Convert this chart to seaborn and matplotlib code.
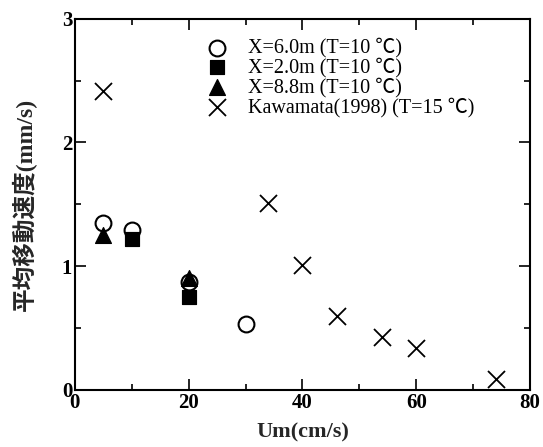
import matplotlib
matplotlib.use("Agg")
import matplotlib.pyplot as plt
import seaborn as sns
import pandas as pd
from matplotlib.ticker import MultipleLocator

# Data
x6_um = [5, 10, 20, 30]
x6_v = [1.35, 1.29, 0.87, 0.53]
x2_um = [10, 20]
x2_v = [1.22, 0.75]
x88_um = [5, 20]
x88_v = [1.25, 0.90]
kw_um = [5, 34, 40, 46, 54, 60, 74]
kw_v = [2.42, 1.51, 1.01, 0.60, 0.43, 0.34, 0.09]

labels = ["X=6.0m (T=10 ℃)", "X=2.0m (T=10 ℃)", "X=8.8m (T=10 ℃)",
          "Kawamata(1998) (T=15 ℃)"]

sns.set_theme(style="ticks")
serif = ["Liberation Serif", "Noto Sans CJK JP", "DejaVu Sans"]
plt.rcParams["font.family"] = serif

fig = plt.figure(figsize=(5.43, 4.47), dpi=100)
ax = fig.add_axes([0.138, 0.128, 0.838, 0.830])

df6 = pd.DataFrame({"Um": x6_um, "v": x6_v})
df2 = pd.DataFrame({"Um": x2_um, "v": x2_v})
df88 = pd.DataFrame({"Um": x88_um, "v": x88_v})
dfk = pd.DataFrame({"Um": kw_um, "v": kw_v})

sns.scatterplot(data=df6, x="Um", y="v", ax=ax, marker="o", s=130,
                facecolor="white", edgecolor="black", linewidth=1.5,
                label=labels[0], zorder=2)
sns.scatterplot(data=df2, x="Um", y="v", ax=ax, marker="s", s=110,
                color="black", edgecolor="black", label=labels[1], zorder=3)
sns.scatterplot(data=df88, x="Um", y="v", ax=ax, marker="^", s=130,
                color="black", edgecolor="black", label=labels[2], zorder=3)
sns.scatterplot(data=dfk, x="Um", y="v", ax=ax, marker="x", s=150,
                color="black", linewidth=1.3, label=labels[3], zorder=3)

ax.set_xlim(0, 80)
ax.set_ylim(0, 3)
ax.xaxis.set_major_locator(MultipleLocator(20))
ax.xaxis.set_minor_locator(MultipleLocator(10))
ax.yaxis.set_major_locator(MultipleLocator(1))
ax.yaxis.set_minor_locator(MultipleLocator(0.5))
ax.tick_params(which="both", direction="in", top=True, right=True,
               colors="black", width=1.2)
ax.tick_params(which="major", length=8, labelsize=15, pad=2)
ax.tick_params(which="minor", length=4)
for lab in ax.get_xticklabels() + ax.get_yticklabels():
    lab.set_fontweight("bold")
for sp in ax.spines.values():
    sp.set_linewidth(1.5)
    sp.set_color("black")

ax.set_xlabel("Um(cm/s)", fontsize=16, fontweight="bold", labelpad=7)
ax.set_ylabel("平均移動速度(mm/s)", fontsize=17, fontweight="bold",
              labelpad=18)

leg = ax.legend(loc="upper left", bbox_to_anchor=(0.27, 0.97), frameon=False,
                fontsize=14.5, handletextpad=1.0, labelspacing=0.0,
                borderaxespad=0, handlelength=1.1)
for t in leg.get_texts():
    t.set_color("black")

fig.savefig("out.png", dpi=100)
